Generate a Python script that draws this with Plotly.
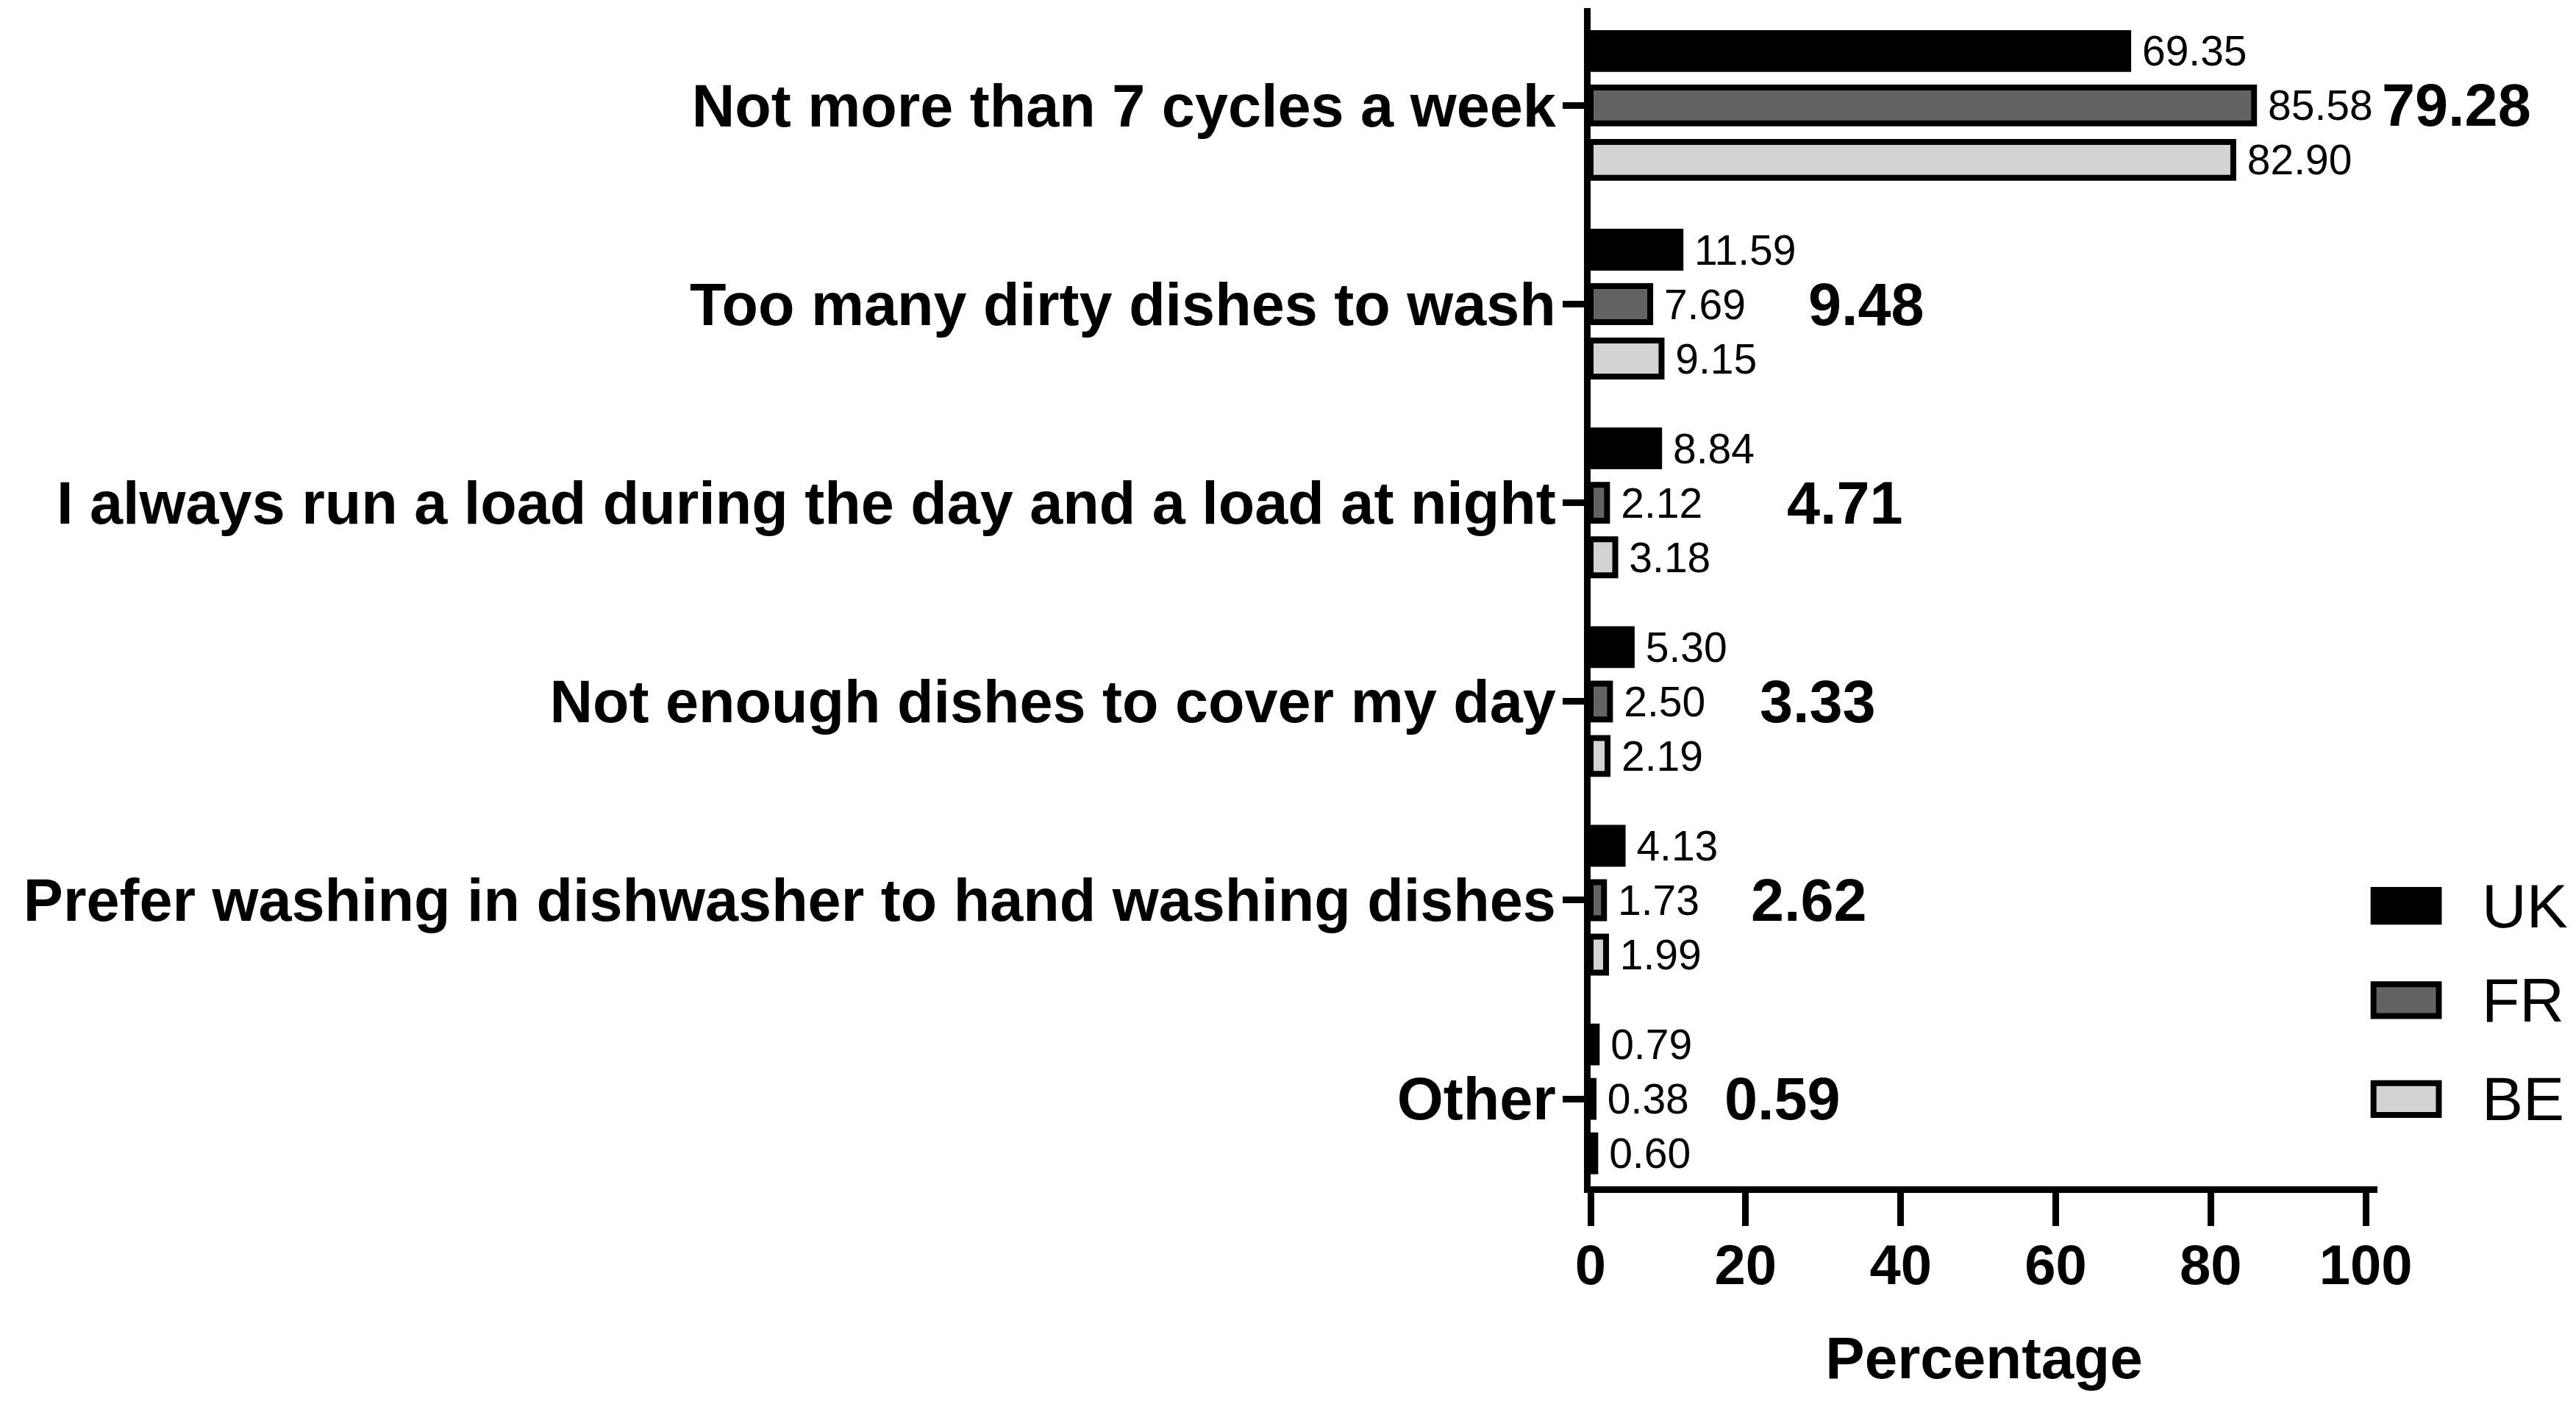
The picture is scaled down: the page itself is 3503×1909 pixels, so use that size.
import plotly.graph_objects as go

# Reasons for the number of dishwasher cycles, per country (%)
reasons = [
    "Not more than 7 cycles a week",
    "Too many dirty dishes to wash",
    "I always run a load during the day and a load at night",
    "Not enough dishes to cover my day",
    "Prefer washing in dishwasher to hand washing dishes",
    "Other",
]
uk = [69.35, 11.59, 8.84, 5.30, 4.13, 0.79]
fr = [85.58, 7.69, 2.12, 2.50, 1.73, 0.38]
be = [82.90, 9.15, 3.18, 2.19, 1.99, 0.60]
average = [79.28, 9.48, 4.71, 3.33, 2.62, 0.59]

countries = ["UK", "FR", "BE"]
colours = ["#000000", "#636363", "#d3d3d3"]
x_ticks = [0, 20, 40, 60, 80, 100]

FONT = "Liberation Sans, Arial, Helvetica, sans-serif"


def build_figure() -> go.Figure:
    fig = go.Figure()

    # One horizontal bar trace per country
    for name, values, colour in zip(countries, [uk, fr, be], colours):
        fig.add_trace(go.Bar(
            y=reasons, x=values, name=name, orientation="h",
            marker=dict(color=colour, line=dict(color="black", width=8)),
            texttemplate="\u00a0%{x:.2f}", textposition="outside",
            constraintext="none", cliponaxis=False,
            outsidetextfont=dict(family=FONT, size=57, color="black"),
            showlegend=False,
        ))

    # Bold average next to each group
    for reason, avg, a, b, c in zip(reasons, average, uk, fr, be):
        fig.add_annotation(
            x=max(a, b, c), y=reason, text="%.2f" % avg,
            xanchor="left", yanchor="middle", xshift=172, showarrow=False,
            font=dict(family=FONT, size=81, color="black", weight="bold"),
        )

    # Hand-drawn legend with big swatches
    legend_y = [0.238, 0.158, 0.074]
    for name, colour, ly in zip(countries, colours, legend_y):
        fig.add_shape(
            type="rect", xref="paper", yref="paper",
            x0=0.995, x1=1.078, y0=ly - 0.0135, y1=ly + 0.0135,
            fillcolor=colour, line=dict(color="black", width=8),
        )
        fig.add_annotation(
            x=1.131, y=ly, xref="paper", yref="paper", text=name,
            xanchor="left", yanchor="middle", showarrow=False,
            font=dict(family=FONT, size=84, color="black"),
        )

    fig.update_layout(
        width=3503, height=1909,
        margin=dict(l=2155, r=278, t=3, b=304),
        plot_bgcolor="white", paper_bgcolor="white",
        barmode="group", bargap=0.178, bargroupgap=0.34,
        font=dict(family=FONT, color="black"),
    )
    fig.update_xaxes(
        range=[0, 101.5], tickvals=x_ticks, showgrid=False, zeroline=False,
        showline=True, linecolor="black", linewidth=9,
        ticks="outside", ticklen=45, tickwidth=9, tickcolor="black",
        ticklabelstandoff=-12,
        tickfont=dict(family=FONT, size=76, color="black", weight="bold"),
        title=dict(text="Percentage", standoff=60,
                   font=dict(family=FONT, size=80, color="black", weight="bold")),
    )
    fig.update_yaxes(
        type="category", categoryorder="array", categoryarray=reasons,
        range=[5.44, -0.49], showgrid=False, zeroline=False,
        showline=True, linecolor="black", linewidth=9,
        ticks="outside", ticklen=29, tickwidth=9, tickcolor="black",
        ticklabelstandoff=-7,
        tickfont=dict(family=FONT, size=81, color="black", weight="bold"),
    )
    return fig


fig = build_figure()
fig.write_html("out.html")
